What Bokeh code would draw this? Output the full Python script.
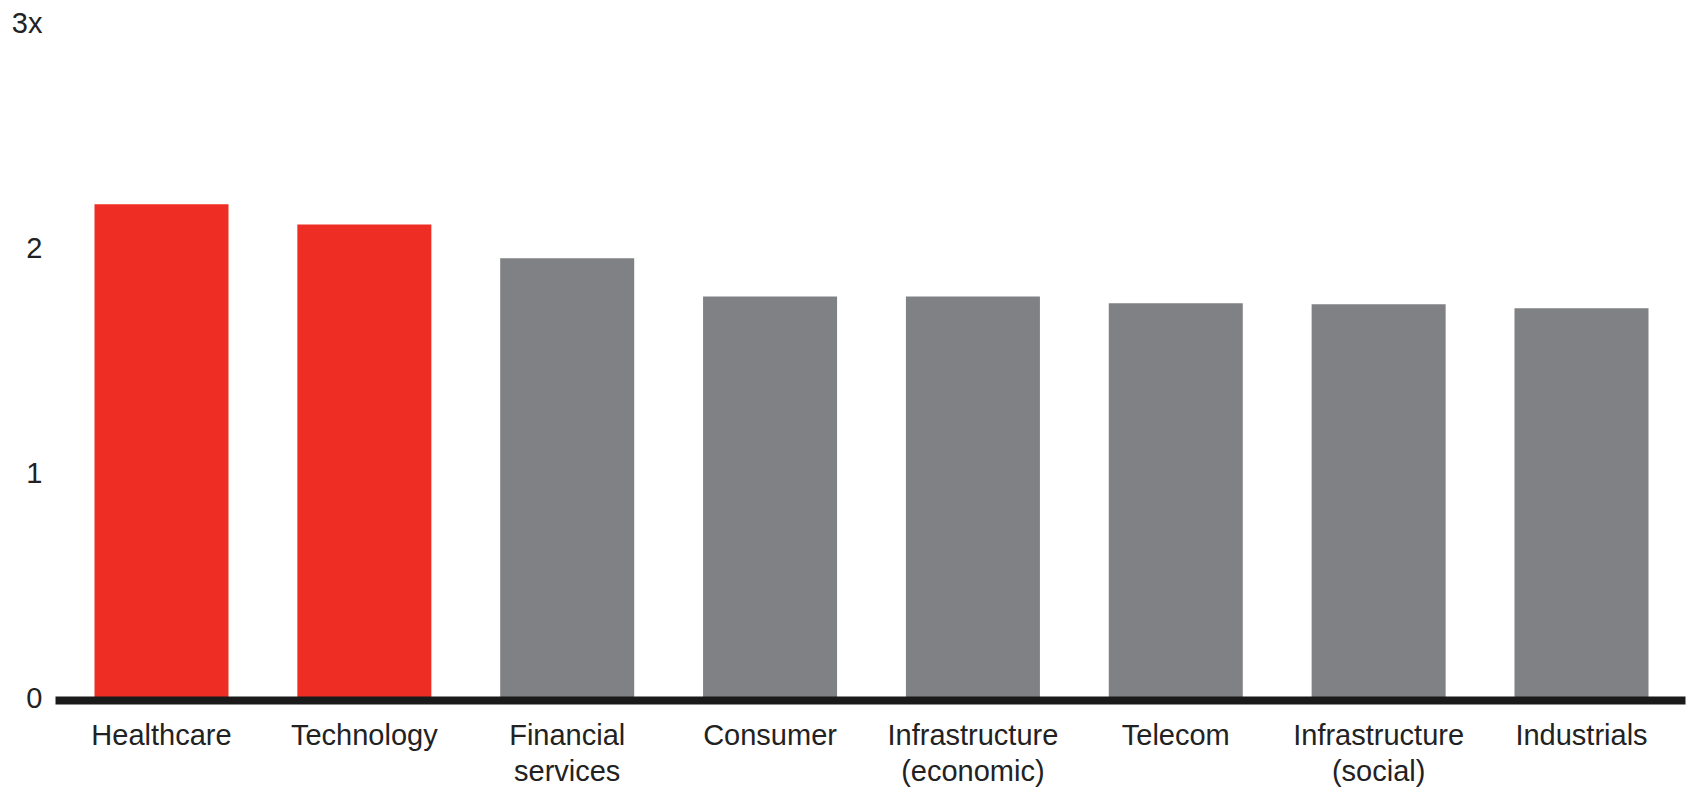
from bokeh.plotting import figure
from bokeh.models import ColumnDataSource, FixedTicker, Range1d
from bokeh.embed import file_html
from bokeh.resources import INLINE

categories = ["Healthcare", "Technology", "Financial\nservices", "Consumer",
              "Infrastructure\n(economic)", "Telecom", "Infrastructure\n(social)", "Industrials"]
values = [2.195, 2.105, 1.955, 1.785, 1.785, 1.755, 1.75, 1.733]
highlight = [True, True, False, False, False, False, False, False]
y_ticks = [0, 1, 2, 3]
y_tick_labels = ["0", "1", "2", "3x"]

RED = "#EE2E24"
GRAY = "#808184"
TEXT = "#222222"
FONT = "Liberation Sans"
FS = "29px"

xs = list(range(len(categories)))
colors = [RED if h else GRAY for h in highlight]
src = ColumnDataSource(dict(x=xs, top=values, color=colors))

p = figure(width=1687, height=790, output_backend="svg", toolbar_location=None,
           x_range=Range1d(-0.5225, 7.5127), y_range=Range1d(-0.01335, 3.0578),
           min_border_left=55, min_border_right=2, min_border_top=10, min_border_bottom=90)
p.vbar(x="x", top="top", bottom=0, width=0.6606, color="color", source=src, line_width=0)

p.xgrid.visible = False
p.ygrid.visible = False
p.outline_line_color = None

xa = p.xaxis[0]
xa.ticker = FixedTicker(ticks=xs)
xa.major_label_overrides = {i: c for i, c in enumerate(categories)}
xa.axis_line_width = 8
xa.axis_line_color = "#1a1a1a"
xa.major_tick_line_color = None
xa.minor_tick_line_color = None
xa.major_tick_out = 0
xa.major_label_standoff = 18
xa.major_label_text_font = FONT
xa.major_label_text_font_size = FS
xa.major_label_text_line_height = 1.13
xa.major_label_text_color = TEXT

ya = p.yaxis[0]
ya.ticker = FixedTicker(ticks=y_ticks)
ya.major_label_overrides = {t: l for t, l in zip(y_ticks, y_tick_labels)}
ya.axis_line_color = None
ya.major_tick_line_color = None
ya.minor_tick_line_color = None
ya.major_tick_out = 0
ya.major_label_standoff = 13
ya.major_label_text_font = FONT
ya.major_label_text_font_size = FS
ya.major_label_text_color = TEXT

open("out.html", "w").write(file_html(p, INLINE))
